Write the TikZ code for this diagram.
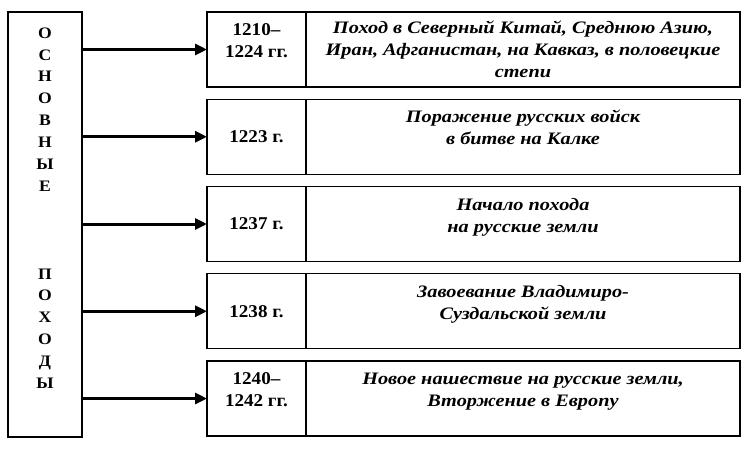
\documentclass[tikz,border=0pt]{standalone}
\usepackage{fontspec}
\setmainfont{Liberation Serif}
\newfontfamily\widetext[FakeStretch=1.16]{Liberation Serif}
\newfontfamily\widedate[FakeStretch=1.06]{Liberation Serif}
\newfontfamily\wideletter[FakeStretch=1.1]{Liberation Serif}
\usetikzlibrary{arrows.meta,positioning}
\tikzset{
  cellnode/.style = {rectangle, draw=black, line width=1.4pt, inner sep=0pt,
    outer sep=0pt, minimum height=75pt, align=center},
  datecell/.style = {cellnode, minimum width=99pt,
    font=\widedate\fontsize{18}{22}\selectfont\bfseries},
  textcell/.style = {cellnode, minimum width=434pt,
    font=\widetext\fontsize{17.5}{22}\selectfont\bfseries\itshape},
  twolines/.style = {text height=40pt, text depth=24pt},% two lines near the top
  arrowline/.style = {->, line width=3pt}
}
\begin{document}
\begin{tikzpicture}[x=1pt, y=-1pt, >={Triangle[length=12pt,width=11pt]},
  node distance=12.25pt]
\useasboundingbox (0,0) rectangle (746,458);
\node (main) [cellnode, minimum width=74pt, minimum height=425pt,
  font=\wideletter\fontsize{16}{21.9}\selectfont\bfseries,
  text height=350pt, text depth=22pt] at (45,224.5)
  {О\\С\\Н\\О\\В\\Н\\Ы\\Е\\{}\\{}\\{}\\П\\О\\Х\\О\\Д\\Ы};
\node (d1) [datecell, twolines] at (256.5,49.5) {1210–\\1224 гг.};
\node (t1) [textcell, right=0pt of d1]
  {Поход в Северный Китай, Среднюю Азию,\\
   Иран, Афганистан, на Кавказ, в половецкие\\ степи};
\node (d2) [datecell, below=of d1] {1223 г.};
\node (t2) [textcell, twolines, right=0pt of d2]
  {Поражение русских войск\\ в битве на Калке};
\node (d3) [datecell, below=of d2] {1237 г.};
\node (t3) [textcell, twolines, right=0pt of d3]
  {Начало похода\\ на русские земли};
\node (d4) [datecell, below=of d3] {1238 г.};
\node (t4) [textcell, twolines, right=0pt of d4]
  {Завоевание Владимиро-\\ Суздальской земли};
\node (d5) [datecell, twolines, below=of d4] {1240–\\1242 гг.};
\node (t5) [textcell, twolines, right=0pt of d5]
  {Новое нашествие на русские земли,\\ Вторжение в Европу};
\draw [arrowline] (main.east |- d1.west) -- (d1.west);
\draw [arrowline] (main.east |- d2.west) -- (d2.west);
\draw [arrowline] (main.east |- d3.west) -- (d3.west);
\draw [arrowline] (main.east |- d4.west) -- (d4.west);
\draw [arrowline] (main.east |- d5.west) -- (d5.west);
\end{tikzpicture}
\end{document}
